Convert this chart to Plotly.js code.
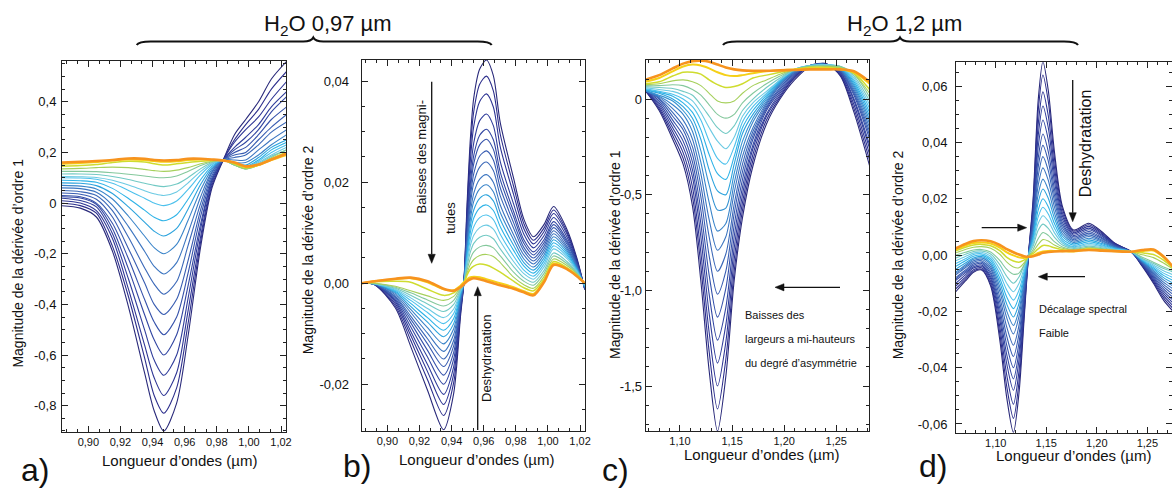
<!DOCTYPE html>
<html><head><meta charset="utf-8">
<script src="https://cdn.plot.ly/plotly-3.0.1.min.js"></script>
<style>html,body{margin:0;padding:0;background:#fff}#chart{width:1172px;height:489px}</style>
</head><body><div id="chart"></div>
<script>
// ---------- Panel a : 1st derivative, H2O 0.97 µm ----------
const aX = [0.882, 0.895, 0.905, 0.915, 0.925, 0.935, 0.941, 0.947, 0.955, 0.962, 0.970, 0.977, 0.984, 0.991, 0.998, 1.006, 1.014, 1.0235];
const aCurves = [
  [-0.01,-0.02,-0.055,-0.19,-0.41,-0.67,-0.82,-0.90,-0.79,-0.53,-0.17,0.06,0.17,0.27,0.33,0.40,0.49,0.56],
  [0.00,-0.01,-0.04,-0.17,-0.37,-0.61,-0.76,-0.83,-0.73,-0.48,-0.15,0.07,0.17,0.25,0.31,0.37,0.45,0.52],
  [0.01,0.00,-0.03,-0.14,-0.34,-0.56,-0.69,-0.76,-0.67,-0.43,-0.13,0.08,0.17,0.24,0.29,0.34,0.41,0.48],
  [0.02,0.01,-0.015,-0.12,-0.30,-0.50,-0.62,-0.68,-0.60,-0.38,-0.10,0.09,0.17,0.22,0.26,0.31,0.38,0.44],
  [0.025,0.02,-0.005,-0.10,-0.26,-0.44,-0.54,-0.60,-0.52,-0.33,-0.08,0.09,0.17,0.21,0.24,0.29,0.36,0.42],
  [0.03,0.025,0.00,-0.08,-0.22,-0.38,-0.47,-0.52,-0.45,-0.28,-0.05,0.10,0.17,0.20,0.22,0.27,0.33,0.38],
  [0.04,0.035,0.015,-0.055,-0.18,-0.315,-0.40,-0.44,-0.38,-0.23,-0.025,0.11,0.17,0.19,0.20,0.25,0.30,0.35],
  [0.05,0.045,0.03,-0.03,-0.135,-0.255,-0.32,-0.36,-0.31,-0.17,0.00,0.12,0.17,0.18,0.19,0.23,0.28,0.32],
  [0.06,0.057,0.043,-0.008,-0.093,-0.19,-0.25,-0.28,-0.235,-0.12,0.026,0.125,0.17,0.17,0.17,0.21,0.25,0.29],
  [0.07,0.067,0.056,0.016,-0.052,-0.13,-0.176,-0.20,-0.163,-0.07,0.052,0.133,0.17,0.16,0.16,0.19,0.23,0.27],
  [0.08,0.078,0.069,0.038,-0.015,-0.075,-0.111,-0.13,-0.10,-0.025,0.074,0.14,0.17,0.16,0.15,0.18,0.22,0.25],
  [0.09,0.088,0.082,0.058,0.018,-0.028,-0.056,-0.07,-0.046,0.014,0.093,0.146,0.17,0.155,0.145,0.17,0.21,0.24],
  [0.10,0.099,0.094,0.078,0.05,0.019,0.00,-0.01,0.008,0.053,0.112,0.152,0.17,0.15,0.14,0.165,0.20,0.23],
  [0.105,0.104,0.101,0.09,0.071,0.049,0.037,0.03,0.044,0.079,0.125,0.156,0.17,0.15,0.14,0.16,0.19,0.22],
  [0.115,0.115,0.113,0.105,0.093,0.078,0.07,0.065,0.075,0.10,0.136,0.16,0.17,0.15,0.135,0.155,0.185,0.21],
  [0.125,0.125,0.124,0.12,0.114,0.107,0.102,0.10,0.107,0.125,0.148,0.163,0.17,0.15,0.135,0.15,0.18,0.21],
  [0.135,0.137,0.14,0.142,0.14,0.133,0.128,0.125,0.13,0.14,0.155,0.165,0.17,0.15,0.135,0.15,0.175,0.20],
  [0.145,0.148,0.152,0.16,0.165,0.162,0.155,0.15,0.155,0.16,0.165,0.168,0.17,0.155,0.14,0.15,0.175,0.20],
  [0.155,0.158,0.162,0.168,0.172,0.17,0.166,0.163,0.165,0.17,0.172,0.17,0.168,0.16,0.142,0.15,0.17,0.19],
  [0.16,0.163,0.166,0.17,0.176,0.175,0.17,0.168,0.17,0.175,0.175,0.172,0.168,0.16,0.145,0.152,0.172,0.195]
];
const aXTicks = [0.90, 0.92, 0.94, 0.96, 0.98, 1.00, 1.02];
const aXLabels = ['0,90','0,92','0,94','0,96','0,98','1,00','1,02'];
const aYTicks = [0.4, 0.2, 0, -0.2, -0.4, -0.6, -0.8];
const aYLabels = ['0,4','0,2','0','-0,2','-0,4','-0,6','-0,8'];

// ---------- Panel b : 2nd derivative, H2O 0.97 µm ----------
const bX = [0.884, 0.892, 0.905, 0.9145, 0.925, 0.935, 0.9413, 0.9455, 0.9476, 0.9496, 0.9517, 0.9538, 0.9575, 0.9617, 0.966, 0.9703, 0.9786, 0.985, 0.991, 0.9975, 1.0035, 1.0118, 1.018, 1.023];
const bCurves = [
  [0,-0.0003,-0.0049,-0.0125,-0.0212,-0.029,-0.0218,-0.0067,0,0.0155,0.0287,0.0367,0.0424,0.0442,0.0411,0.0318,0.0208,0.0127,0.0092,0.0116,0.0152,0.0107,0.0050,-0.0013],
  [0,-0.0003,-0.0045,-0.0113,-0.0191,-0.0262,-0.0197,-0.0060,0,0.0144,0.0267,0.0340,0.0394,0.0410,0.0381,0.0295,0.0192,0.0118,0.0085,0.0109,0.0145,0.0102,0.0047,-0.0013],
  [0,-0.0002,-0.0041,-0.0103,-0.0175,-0.024,-0.018,-0.0055,0,0.0131,0.0244,0.0311,0.0360,0.0375,0.0349,0.0270,0.0176,0.0108,0.0078,0.0102,0.0138,0.0098,0.0045,-0.0012],
  [0,-0.0002,-0.0037,-0.0095,-0.0161,-0.022,-0.0165,-0.0051,0,0.0117,0.0218,0.0278,0.0322,0.0335,0.0312,0.0241,0.0157,0.0097,0.007,0.0094,0.013,0.0092,0.0042,-0.0012],
  [0,-0.0002,-0.0034,-0.0086,-0.0146,-0.020,-0.015,-0.0046,0,0.0107,0.0198,0.0253,0.0293,0.0305,0.0284,0.022,0.0142,0.0086,0.0062,0.0086,0.0122,0.0086,0.0040,-0.0011],
  [0,-0.0002,-0.0031,-0.0078,-0.0133,-0.0182,-0.0137,-0.0042,0,0.010,0.0185,0.0237,0.0274,0.0285,0.0265,0.0205,0.0132,0.0079,0.0056,0.008,0.0116,0.0082,0.0038,-0.001],
  [0,-0.0002,-0.0028,-0.0071,-0.012,-0.0165,-0.0124,-0.0038,0,0.0092,0.017,0.0217,0.0252,0.0262,0.0244,0.0189,0.012,0.0071,0.005,0.0074,0.011,0.0078,0.0036,-0.001],
  [0,-0.0002,-0.0026,-0.0065,-0.011,-0.015,-0.0113,-0.0035,0,0.0084,0.0156,0.0199,0.023,0.024,0.0223,0.0173,0.0109,0.0064,0.0044,0.0068,0.0104,0.0073,0.0034,-0.0009],
  [0,-0.0001,-0.0023,-0.0058,-0.0099,-0.0135,-0.0101,-0.0031,0,0.0075,0.014,0.0178,0.0206,0.0215,0.02,0.0155,0.0096,0.0056,0.0038,0.0062,0.0098,0.0069,0.0032,-0.0008],
  [0,-0.0001,-0.002,-0.0052,-0.0088,-0.012,-0.009,-0.0028,0,0.0068,0.0127,0.0162,0.0187,0.0195,0.0181,0.014,0.0086,0.0048,0.0032,0.0056,0.0092,0.0065,0.003,-0.0008],
  [0,-0.0001,-0.0018,-0.0046,-0.0077,-0.0106,-0.008,-0.0024,0,0.0061,0.0114,0.0145,0.0168,0.0175,0.0163,0.0126,0.0075,0.0041,0.0026,0.005,0.0086,0.0061,0.0028,-0.0007],
  [0,-0.0001,-0.0016,-0.004,-0.0068,-0.0093,-0.007,-0.0021,0,0.0054,0.0101,0.0129,0.0149,0.0155,0.0144,0.0112,0.0065,0.0034,0.002,0.0044,0.008,0.0057,0.0027,-0.0006],
  [0,-0.0001,-0.0014,-0.0034,-0.0058,-0.008,-0.006,-0.0018,0,0.0047,0.0088,0.0112,0.013,0.0135,0.0126,0.0097,0.0054,0.0026,0.0014,0.0038,0.0074,0.0053,0.0025,-0.0005],
  [0,-0.0001,-0.0012,-0.0029,-0.005,-0.0068,-0.0051,-0.0016,0,0.004,0.0075,0.0095,0.011,0.0115,0.0107,0.0083,0.0043,0.0019,0.0008,0.0032,0.0068,0.0049,0.0023,-0.0004],
  [0,-0.0001,-0.001,-0.0024,-0.0041,-0.0056,-0.0042,-0.0013,0,0.0033,0.0062,0.0079,0.0091,0.0095,0.0088,0.0068,0.0033,0.0011,0.0002,0.0025,0.006,0.0043,0.0021,-0.0003],
  [0,0,-0.0008,-0.0019,-0.0033,-0.0045,-0.0034,-0.001,0,0.0026,0.0049,0.0062,0.0072,0.0075,0.007,0.0054,0.0022,0.0004,-0.0004,0.0019,0.0054,0.0039,0.0019,-0.0002],
  [0,0,-0.0006,-0.0015,-0.0025,-0.0034,-0.0026,-0.0008,0,0.002,0.0037,0.0047,0.0055,0.0057,0.0053,0.0041,0.0012,-0.0003,-0.001,0.0013,0.0048,0.0035,0.0018,-0.0001],
  [0,0.0003,0.0004,0.0002,-0.0012,-0.0024,-0.0019,-0.0006,0,0.0016,0.0028,0.0034,0.0038,0.0036,0.003,0.0022,0.0004,-0.0009,-0.0015,0.0008,0.0043,0.0031,0.0016,0],
  [0,0.0004,0.0008,0.001,0.0002,-0.0012,-0.0014,-0.0005,0.0002,0.0008,0.0012,0.0013,0.0012,0.0008,0.0004,0,-0.0008,-0.0016,-0.0021,0.0004,0.0039,0.0029,0.0015,0],
  [0,0.0004,0.0009,0.0011,0.0004,-0.0011,-0.0015,-0.0008,-0.0002,0.0004,0.0008,0.001,0.0008,0.0004,0,-0.0004,-0.0011,-0.0018,-0.0024,0.0002,0.0036,0.0028,0.0014,0]
];
const bXTicks = aXTicks;
const bXLabels = aXLabels;
const bYTicks = [0.04, 0.02, 0, -0.02];
const bYLabels = ['0,04','0,02','0,00','-0,02'];

// ---------- Panel c : 1st derivative, H2O 1.2 µm ----------
const cX = [1.066, 1.080, 1.093, 1.103, 1.112, 1.120, 1.128, 1.136, 1.144, 1.152, 1.160, 1.170, 1.183, 1.196, 1.21, 1.225, 1.240, 1.254, 1.267, 1.282];
const cCurves = [
  [0.05,-0.06,-0.21,-0.34,-0.56,-0.95,-1.42,-1.735,-1.45,-0.95,-0.62,-0.35,-0.13,0.00,0.10,0.17,0.185,0.12,-0.07,-0.35],
  [0.05,-0.05,-0.19,-0.31,-0.51,-0.87,-1.32,-1.62,-1.36,-0.90,-0.58,-0.32,-0.11,0.01,0.11,0.175,0.185,0.125,-0.05,-0.32],
  [0.05,-0.04,-0.17,-0.28,-0.46,-0.80,-1.22,-1.50,-1.27,-0.84,-0.54,-0.29,-0.09,0.02,0.115,0.175,0.18,0.13,-0.03,-0.29],
  [0.05,-0.03,-0.15,-0.25,-0.41,-0.72,-1.12,-1.38,-1.18,-0.78,-0.50,-0.26,-0.08,0.03,0.12,0.175,0.18,0.135,-0.01,-0.26],
  [0.05,-0.02,-0.13,-0.22,-0.37,-0.65,-1.02,-1.26,-1.09,-0.72,-0.46,-0.24,-0.06,0.04,0.125,0.175,0.18,0.14,0.00,-0.24],
  [0.05,-0.01,-0.11,-0.19,-0.33,-0.58,-0.92,-1.14,-0.99,-0.66,-0.42,-0.21,-0.05,0.05,0.13,0.175,0.18,0.145,0.02,-0.21],
  [0.05,0.00,-0.09,-0.16,-0.29,-0.51,-0.82,-1.02,-0.90,-0.60,-0.38,-0.19,-0.04,0.06,0.135,0.175,0.18,0.15,0.03,-0.19],
  [0.045,0.005,-0.07,-0.14,-0.25,-0.45,-0.72,-0.90,-0.81,-0.55,-0.34,-0.17,-0.03,0.07,0.14,0.175,0.18,0.15,0.04,-0.17],
  [0.045,0.01,-0.05,-0.11,-0.21,-0.39,-0.63,-0.79,-0.72,-0.49,-0.30,-0.15,-0.02,0.075,0.14,0.175,0.18,0.155,0.05,-0.15],
  [0.045,0.015,-0.03,-0.08,-0.17,-0.33,-0.54,-0.69,-0.65,-0.44,-0.26,-0.12,-0.01,0.08,0.145,0.175,0.18,0.155,0.06,-0.13],
  [0.045,0.02,-0.01,-0.06,-0.13,-0.27,-0.45,-0.58,-0.57,-0.39,-0.22,-0.10,0.00,0.085,0.15,0.175,0.18,0.16,0.07,-0.11],
  [0.05,0.03,0.00,-0.04,-0.10,-0.21,-0.37,-0.48,-0.50,-0.34,-0.18,-0.08,0.01,0.09,0.15,0.175,0.18,0.16,0.08,-0.09],
  [0.05,0.035,0.015,-0.02,-0.07,-0.16,-0.29,-0.39,-0.42,-0.30,-0.15,-0.06,0.02,0.095,0.15,0.175,0.18,0.165,0.09,-0.07],
  [0.055,0.04,0.025,0.00,-0.04,-0.11,-0.22,-0.31,-0.34,-0.25,-0.12,-0.04,0.03,0.10,0.155,0.175,0.18,0.165,0.10,-0.05],
  [0.06,0.05,0.04,0.02,-0.01,-0.07,-0.15,-0.22,-0.26,-0.20,-0.09,-0.02,0.04,0.10,0.155,0.175,0.18,0.17,0.11,-0.03],
  [0.065,0.06,0.055,0.04,0.02,-0.03,-0.09,-0.15,-0.18,-0.14,-0.06,0.00,0.06,0.11,0.155,0.175,0.175,0.17,0.12,-0.01],
  [0.07,0.07,0.075,0.07,0.05,0.02,-0.03,-0.08,-0.10,-0.08,-0.02,0.03,0.08,0.12,0.155,0.17,0.175,0.17,0.13,0.01],
  [0.075,0.08,0.095,0.10,0.09,0.07,0.03,-0.01,-0.02,-0.01,0.03,0.07,0.10,0.13,0.155,0.17,0.17,0.165,0.13,0.03],
  [0.08,0.09,0.12,0.14,0.14,0.13,0.10,0.075,0.06,0.065,0.08,0.11,0.125,0.14,0.155,0.165,0.165,0.16,0.135,0.05],
  [0.09,0.11,0.145,0.17,0.18,0.175,0.16,0.14,0.125,0.12,0.125,0.135,0.145,0.15,0.155,0.16,0.16,0.155,0.14,0.08],
  [0.10,0.125,0.16,0.185,0.198,0.20,0.195,0.18,0.165,0.155,0.15,0.148,0.148,0.15,0.152,0.155,0.155,0.155,0.145,0.09]
];
const cXTicks = [1.10, 1.15, 1.20, 1.25];
const cXLabels = ['1,10','1,15','1,20','1,25'];
const cYTicks = [0, -0.5, -1.0, -1.5];
const cYLabels = ['0','-0,5','-1,0','-1,5'];

// ---------- Panel d : 2nd derivative, H2O 1.2 µm ----------
const dX = [1.0605, 1.070, 1.078, 1.086, 1.095, 1.104, 1.111, 1.1175, 1.123, 1.128, 1.1324, 1.137, 1.142, 1.1467, 1.152, 1.158, 1.166, 1.177, 1.192, 1.205, 1.218, 1.234, 1.245, 1.256, 1.266, 1.2755];
const dCurves = [
  [-0.013,-0.0092,-0.0061,-0.0053,-0.011,-0.0301,-0.0509,-0.063,-0.0491,-0.0233,0,0.0199,0.055,0.0687,0.0585,0.037,0.0173,0.0089,0.0113,0.0083,0.0042,0.0012,-0.004,-0.010,-0.016,-0.020],
  [-0.012,-0.0085,-0.0057,-0.005,-0.0103,-0.0278,-0.0469,-0.058,-0.0452,-0.0215,0,0.0186,0.0512,0.064,0.0546,0.0346,0.0163,0.0085,0.0108,0.0079,0.0041,0.0012,-0.0038,-0.0095,-0.0152,-0.019],
  [-0.011,-0.0078,-0.0052,-0.0045,-0.0094,-0.0254,-0.0428,-0.053,-0.0413,-0.0196,0,0.0168,0.0464,0.058,0.0495,0.0315,0.015,0.008,0.0102,0.0075,0.0039,0.0012,-0.0036,-0.009,-0.0144,-0.018],
  [-0.010,-0.007,-0.0046,-0.004,-0.0084,-0.0229,-0.0388,-0.048,-0.0374,-0.0178,0,0.0154,0.0424,0.053,0.0453,0.0289,0.0139,0.0075,0.0096,0.0071,0.0037,0.0012,-0.0034,-0.0085,-0.0136,-0.017],
  [-0.009,-0.0063,-0.0041,-0.0035,-0.0076,-0.0209,-0.0355,-0.044,-0.0343,-0.0163,0,0.0139,0.0384,0.048,0.041,0.0263,0.0127,0.007,0.009,0.0067,0.0035,0.0012,-0.0032,-0.008,-0.0128,-0.016],
  [-0.0085,-0.0058,-0.0036,-0.003,-0.0067,-0.0189,-0.0322,-0.040,-0.0312,-0.0148,0,0.0125,0.0344,0.043,0.0368,0.0237,0.0116,0.0065,0.0084,0.0062,0.0034,0.0012,-0.003,-0.0075,-0.012,-0.015],
  [-0.008,-0.0053,-0.0031,-0.0025,-0.0059,-0.0169,-0.029,-0.036,-0.0281,-0.0133,0,0.0113,0.0312,0.039,0.0334,0.0215,0.0106,0.006,0.0078,0.0058,0.0032,0.0012,-0.0028,-0.007,-0.0112,-0.014],
  [-0.007,-0.0045,-0.0025,-0.002,-0.005,-0.0149,-0.0257,-0.032,-0.025,-0.0118,0,0.0102,0.028,0.035,0.03,0.0194,0.0096,0.0055,0.0072,0.0054,0.003,0.0012,-0.0026,-0.0065,-0.0104,-0.013],
  [-0.0065,-0.004,-0.002,-0.0015,-0.0042,-0.0129,-0.0224,-0.028,-0.0218,-0.0104,0,0.009,0.0248,0.031,0.0266,0.0172,0.0086,0.005,0.0066,0.005,0.0028,0.0012,-0.0024,-0.006,-0.0096,-0.012],
  [-0.006,-0.0035,-0.0015,-0.001,-0.0034,-0.0113,-0.020,-0.025,-0.0195,-0.0093,0,0.0078,0.0216,0.027,0.0232,0.0151,0.0076,0.0045,0.006,0.0046,0.0026,0.0012,-0.0022,-0.0055,-0.0088,-0.011],
  [-0.005,-0.0028,-0.001,-0.0005,-0.0027,-0.0097,-0.0175,-0.022,-0.0172,-0.0081,0,0.0068,0.0188,0.0235,0.0202,0.0132,0.0067,0.004,0.0054,0.0041,0.0025,0.0012,-0.002,-0.005,-0.008,-0.010],
  [-0.004,-0.002,-0.0004,0,-0.0019,-0.0082,-0.015,-0.019,-0.0148,-0.007,0,0.0058,0.016,0.020,0.0172,0.0113,0.0058,0.0035,0.0048,0.0037,0.0023,0.0012,-0.0018,-0.0045,-0.0072,-0.009],
  [-0.003,-0.0013,0.0002,0.0005,-0.0012,-0.0066,-0.0125,-0.016,-0.0125,-0.0059,0,0.0049,0.0136,0.017,0.0146,0.0096,0.005,0.003,0.0042,0.0033,0.0021,0.0012,-0.0016,-0.004,-0.0064,-0.008],
  [-0.002,-0.0005,0.0007,0.001,-0.0004,-0.005,-0.0101,-0.013,-0.0101,-0.0048,0,0.0041,0.0112,0.014,0.0121,0.008,0.0043,0.0027,0.0037,0.003,0.002,0.0012,-0.0014,-0.0035,-0.0056,-0.007],
  [-0.001,0.0003,0.0013,0.0015,0.0004,-0.0034,-0.0076,-0.010,-0.0078,-0.0037,0,0.0032,0.0088,0.011,0.0095,0.0064,0.0036,0.0024,0.0032,0.0026,0.0018,0.0012,-0.0012,-0.003,-0.0048,-0.006],
  [0,0.001,0.0018,0.002,0.0011,-0.0019,-0.0051,-0.0068,-0.0064,-0.0035,-0.0005,0.002,0.0058,0.008,0.007,0.0048,0.0029,0.002,0.0028,0.0023,0.0017,0.0012,-0.0008,-0.0025,-0.0042,-0.0055],
  [0.0008,0.002,0.0028,0.003,0.0024,0.0003,-0.0025,-0.0042,-0.0045,-0.0028,-0.0006,0.0012,0.0038,0.0055,0.005,0.0036,0.0024,0.0018,0.0025,0.0021,0.0016,0.0012,0.0001,-0.0009,-0.0028,-0.005],
  [0.0015,0.0028,0.0036,0.0038,0.0033,0.0016,-0.0008,-0.0021,-0.0025,-0.0018,-0.0006,0.0006,0.0022,0.0034,0.0033,0.0026,0.0019,0.0015,0.0022,0.0019,0.0015,0.0012,0.0008,0.0002,-0.0018,-0.0047],
  [0.002,0.0034,0.0043,0.0045,0.0041,0.0027,0.001,-0.0001,-0.0008,-0.001,-0.0007,-0.0002,0.0008,0.0013,0.0015,0.0015,0.0014,0.0013,0.002,0.0017,0.0014,0.0012,0.0014,0.0016,-0.0008,-0.0044],
  [0.0024,0.004,0.005,0.0053,0.0049,0.0036,0.0021,0.001,0.0002,-0.0004,-0.0006,-0.0004,0.0002,0.0008,0.0011,0.0013,0.0014,0.0015,0.0018,0.0016,0.0014,0.0012,0.0018,0.002,-0.0005,-0.0042]
];
const dXTicks = cXTicks;
const dXLabels = cXLabels;
const dYTicks = [0.06, 0.04, 0.02, 0, -0.02, -0.04, -0.06];
const dYLabels = ['0,06','0,04','0,02','0,00','-0,02','-0,04','-0,06'];

// ---------- styling ----------
const palette = ['#29297a','#2c2e8c','#2e3594','#303d9b','#3246a2','#3551aa','#385cb1','#3b68b8','#3c75c0','#3a84c9','#3593d2','#2ca3dd','#2fb3e7','#4dc1ec','#6ccae3','#72c9c4','#84c89c','#a6d05c','#cfdc2f','#f5d018','#f7931e'];
const W = 1172, H = 489;
const FONT = 'Liberation Sans, Arial, Helvetica, sans-serif';
const px = v => v / W, py = v => 1 - v / H;

const traces = [];
function addPanel(xs, curves, k) {
  const n = curves.length;
  curves.forEach((ys, i) => {
    const ci = Math.round(i * (palette.length - 1) / (n - 1));
    const w = i === n - 1 ? 2.6 : (i === n - 2 ? 2.0 : (i === n - 3 ? 1.5 : 1.1));
    traces.push({
      x: xs, y: ys, type: 'scatter', mode: 'lines',
      xaxis: k === 1 ? 'x' : 'x' + k, yaxis: k === 1 ? 'y' : 'y' + k,
      line: {color: palette[ci], width: w, shape: 'spline', smoothing: 0.8},
      hoverinfo: 'skip', showlegend: false
    });
  });
}
addPanel(aX, aCurves, 1);
addPanel(bX, bCurves, 2);
addPanel(cX, cCurves, 3);
addPanel(dX, dCurves, 4);

function axis(domain, range, tv, tt, minorDt, minorT0, anchor, fs, extra) {
  return Object.assign({
    domain: domain, range: range, anchor: anchor,
    tickmode: 'array', tickvals: tv, ticktext: tt,
    ticks: 'inside', ticklen: 6, tickwidth: 1, tickcolor: '#222',
    minor: {ticks: 'inside', ticklen: 3, dtick: minorDt, tick0: minorT0, tickcolor: '#222', tickwidth: 1, showgrid: false},
    showline: true, linecolor: '#222', linewidth: 1, mirror: 'allticks',
    showgrid: false, zeroline: false,
    tickfont: {family: FONT, size: fs, color: '#111'}
  }, extra || {});
}

const layout = {
  width: W, height: H,
  margin: {l: 0, r: 0, t: 0, b: 0, pad: 0},
  paper_bgcolor: '#fff', plot_bgcolor: '#fff',
  font: {family: FONT, color: '#111'},
  showlegend: false,
  xaxis:  axis([px(62), px(286)], [0.8836, 1.0231], aXTicks, aXLabels, 0.02/3, 0.9, 'y', 11),
  yaxis:  axis([py(432), py(61)], [-0.904, 0.561], aYTicks, aYLabels, 0.05, 0, 'x', 13, {ticklabelstandoff: 2}),
  xaxis2: axis([px(361.7), px(584.7)], [0.884, 1.0229], bXTicks, bXLabels, 0.02/3, 0.9, 'y2', 11),
  yaxis2: axis([py(430.7), py(60)], [-0.0292, 0.0442], bYTicks, bYLabels, 0.005, 0, 'x2', 13, {ticklabelstandoff: 9}),
  xaxis3: axis([px(645.7), px(869)], [1.0671, 1.2814], cXTicks, cXLabels, 0.01, 1.1, 'y3', 11),
  yaxis3: axis([py(431), py(60)], [-1.735, 0.204], cYTicks, cYLabels, 0.1, 0, 'x3', 13, {ticklabelstandoff: 0}),
  xaxis4: axis([px(956), 1], [1.0607, 1.2744], dXTicks, dXLabels, 0.01, 1.1, 'y4', 11),
  yaxis4: axis([py(432.7), py(62.3)], [-0.0631, 0.0685], dYTicks, dYLabels, 0.005, 0, 'x4', 13, {ticklabelstandoff: 5}),
  annotations: [],
  shapes: []
};

function txt(t, x, y, size, opts) {
  layout.annotations.push(Object.assign({
    text: t, x: px(x), y: py(y), xref: 'paper', yref: 'paper',
    showarrow: false, xanchor: 'center', yanchor: 'middle',
    font: {family: FONT, size: size, color: '#111'}
  }, opts || {}));
}
// arrows drawn as a shaft line plus a filled triangular head (paper coordinates)
function arrow(hx, hy, tx, ty) {
  const L = Math.hypot(hx - tx, hy - ty), ux = (hx - tx) / L, uy = (hy - ty) / L;
  const hl = 9, hw = 3.6;
  const bx = hx - ux * hl, by = hy - uy * hl;
  layout.shapes.push({type: 'line', xref: 'paper', yref: 'paper',
    x0: px(tx), y0: py(ty), x1: px(bx), y1: py(by), line: {color: '#111', width: 1.3}});
  const P = (x, y) => px(x).toFixed(5) + ',' + py(y).toFixed(5);
  const path = 'M' + P(hx, hy) + ' L' + P(bx - uy * hw, by + ux * hw) + ' L' + P(bx + uy * hw, by - ux * hw) + ' Z';
  layout.shapes.push({type: 'path', xref: 'paper', yref: 'paper', path: path,
    fillcolor: '#111', line: {color: '#111', width: 0.5}});
}

// group titles
txt('H<sub>2</sub>O 0,97 µm', 328, 25, 22);
txt('H<sub>2</sub>O 1,2 µm', 904, 25, 22);

// braces
function brace(x0, x1, xc) {
  const yE = 45, yM = 41.5, yT = 37.5;
  const P = (x, y) => px(x).toFixed(5) + ',' + py(y).toFixed(5);
  const d = 'M' + P(x0, yE) + ' Q' + P(x0 + 2, yM) + ' ' + P(x0 + 14, yM) +
            ' L' + P(xc - 10, yM) + ' Q' + P(xc - 2, yM) + ' ' + P(xc, yT) +
            ' Q' + P(xc + 2, yM) + ' ' + P(xc + 10, yM) +
            ' L' + P(x1 - 14, yM) + ' Q' + P(x1 - 2, yM) + ' ' + P(x1, yE);
  layout.shapes.push({type: 'path', xref: 'paper', yref: 'paper', path: d, line: {color: '#111', width: 2}});
}
brace(136.7, 491.7, 313.3);
brace(723, 1078, 900);

// axis titles
const XT = 'Longueur d’ondes (µm)';
txt(XT, 179, 460, 15);
txt(XT, 476.7, 459.3, 15);
txt(XT, 761.7, 454, 15);
txt(XT, 1073.3, 455, 15);
txt('Magnitude de la dérivée d’ordre 1', 18.3, 263.3, 14, {textangle: -90});
txt('Magnitude de la dérivée d’ordre 2', 308.3, 250, 14, {textangle: -90});
txt('Magnitude de la dérivée d’ordre 1', 615, 255, 14, {textangle: -90});
txt('Magnitude de la dérivée d’ordre 2', 898.3, 255, 14, {textangle: -90});

// panel letters
txt('a)', 35, 470, 32);
txt('b)', 357, 466, 32);
txt('c)', 615, 470, 32);
txt('d)', 933, 466, 32);

// panel b notes
arrow(431.7, 263.3, 431.7, 81.7);
txt('Baisses des magni-', 421.7, 156.7, 13, {textangle: -90});
txt('tudes', 450, 218, 13, {textangle: -90});
arrow(477.7, 286.7, 477.7, 430);
txt('Deshydratation', 486.7, 358.3, 13, {textangle: -90});

// panel c notes
arrow(775, 287.3, 840, 287.3);
txt('Baisses des', 743.3, 315, 11, {xanchor: 'left'});
txt('largeurs a mi-hauteurs', 743.3, 339.3, 11, {xanchor: 'left'});
txt('du degré d’asymmétrie', 743.3, 363.3, 11, {xanchor: 'left'});

// panel d notes
arrow(1026.7, 227.7, 981.7, 227.7);
arrow(1038.3, 276.7, 1085, 276.7);
arrow(1072.7, 221.7, 1072.7, 80);
txt('Deshydratation', 1085, 143.3, 16, {textangle: -90});
txt('Décalage spectral', 1036.7, 309.3, 11, {xanchor: 'left'});
txt('Faible', 1036.7, 333.3, 11, {xanchor: 'left'});

Plotly.newPlot('chart', traces, layout, {displayModeBar: false, staticPlot: true});
</script></body></html>
